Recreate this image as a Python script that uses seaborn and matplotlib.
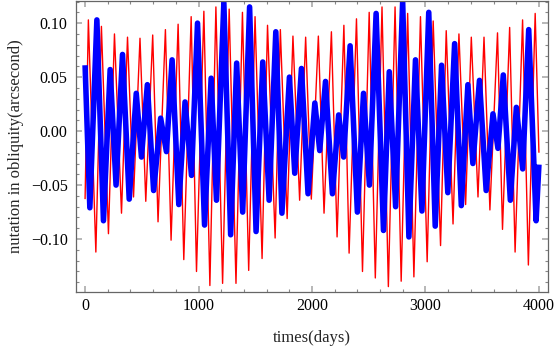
import matplotlib
matplotlib.use("Agg")
import matplotlib.pyplot as plt
import numpy as np
import seaborn as sns
from matplotlib.ticker import MultipleLocator, FuncFormatter

# ------------------------------------------------------------
# Data (turning points of each curve)
# ------------------------------------------------------------
red_days = [0, 29, 95, 144, 206, 259, 321, 374, 427, 484, 535, 596, 643, 708,
            758, 820, 870, 935, 982, 1047, 1100, 1153, 1212, 1270, 1330, 1387,
            1442, 1498, 1560, 1608, 1675, 1721, 1781, 1832, 1891, 1944, 1994,
            2056, 2106, 2171, 2221, 2281, 2327, 2392, 2445, 2504, 2558, 2617,
            2673, 2732, 2786, 2843, 2898, 2956, 3015, 3068, 3133, 3183, 3243,
            3295, 3354, 3404, 3463, 3516, 3568, 3635, 3679, 3742, 3790, 3856,
            3907, 3967, 4000]
red_vals = [-0.063, 0.103, -0.112, 0.097, -0.095, 0.090, -0.076, 0.087, -0.061,
            0.086, -0.065, 0.089, -0.084, 0.094, -0.101, 0.099, -0.119, 0.106,
            -0.130, 0.111, -0.143, 0.115, -0.141, 0.113, -0.141, 0.110, -0.129,
            0.106, -0.118, 0.098, -0.099, 0.094, -0.081, 0.088, -0.064, 0.087,
            -0.063, 0.088, -0.076, 0.092, -0.098, 0.098, -0.113, 0.104, -0.130,
            0.110, -0.136, 0.115, -0.144, 0.115, -0.139, 0.109, -0.135, 0.106,
            -0.121, 0.102, -0.106, 0.093, -0.086, 0.090, -0.068, 0.087, -0.061,
            0.087, -0.073, 0.091, -0.091, 0.096, -0.112, 0.103, -0.124, 0.109,
            -0.020]

blue_days = [0, 42, 104, 162, 221, 273, 330, 389, 451, 497, 549, 604, 666, 717,
             767, 826, 881, 938, 991, 1053, 1111, 1158, 1223, 1283, 1336, 1389,
             1450, 1507, 1566, 1622, 1681, 1735, 1801, 1848, 1907, 1965, 2025,
             2068, 2119, 2180, 2235, 2279, 2336, 2400, 2454, 2506, 2565, 2630,
             2681, 2737, 2799, 2854, 2912, 2969, 3029, 3086, 3142, 3197, 3257,
             3316, 3374, 3418, 3476, 3535, 3595, 3639, 3686, 3748, 3801, 3857,
             3910, 3975, 4000]
blue_vals = [0.061, -0.071, 0.103, -0.083, 0.057, -0.050, 0.071, -0.063, 0.035,
             -0.024, 0.043, -0.055, 0.012, -0.019, 0.066, -0.068, 0.027, -0.041,
             0.100, -0.087, 0.049, -0.064, 0.119, -0.096, 0.063, -0.075, 0.115,
             -0.093, 0.064, -0.064, 0.092, -0.076, 0.050, -0.039, 0.058, -0.058,
             0.026, -0.018, 0.046, -0.058, 0.015, -0.024, 0.079, -0.075, 0.035,
             -0.050, 0.109, -0.092, 0.055, -0.070, 0.120, -0.098, 0.066, -0.074,
             0.110, -0.088, 0.061, -0.057, 0.081, -0.069, 0.043, -0.030, 0.047,
             -0.055, 0.016, -0.016, 0.052, -0.064, 0.022, -0.035, 0.094, -0.083,
             -0.031]

# ------------------------------------------------------------
# Plot
# ------------------------------------------------------------
sns.set_theme(style="ticks")
plt.rcParams["font.family"] = ["Liberation Serif", "DejaVu Serif"]

fig = plt.figure(figsize=(5.55, 3.46), dpi=100)
ax = fig.add_axes([76 / 555, 1 - 292 / 346, 472 / 555, 291 / 346])

sns.lineplot(x=red_days, y=red_vals, ax=ax, color="#ff0000", linewidth=1.0,
             sort=False, estimator=None)
sns.lineplot(x=blue_days, y=blue_vals, ax=ax, color="#0000ff",
             linewidth=4.0, sort=False, estimator=None)
for ln in ax.get_lines():
    ln.set_solid_joinstyle("round")
    ln.set_solid_capstyle("butt")

ax.set_xlim(-80, 4080)
ax.set_ylim(-0.149, 0.1205)

ax.xaxis.set_major_locator(MultipleLocator(1000))
ax.xaxis.set_minor_locator(MultipleLocator(200))
ax.yaxis.set_major_locator(MultipleLocator(0.05))
ax.yaxis.set_minor_locator(MultipleLocator(0.01))
ax.yaxis.set_major_formatter(FuncFormatter(lambda v, p: f"{v:.2f}".replace("-", "\u2212")))

frame_col = "#666666"
for s in ax.spines.values():
    s.set_color(frame_col)
    s.set_linewidth(0.9)
ax.tick_params(which="both", direction="in", top=True, right=True,
               color="#888888", labelsize=11.5, labelcolor="black")
ax.tick_params(which="major", length=4, width=1.2, color="#aaaaaa")
ax.tick_params(which="minor", length=2.5, width=0.8)
ax.tick_params(axis="y", which="both", pad=6)
ax.tick_params(axis="x", which="both", pad=4)

ax.set_xlabel("times(days)", fontsize=12, labelpad=12)
ax.set_ylabel("nutation in obliquity(arcsecond)", fontsize=12, labelpad=5)

fig.savefig("out.png", dpi=100)
